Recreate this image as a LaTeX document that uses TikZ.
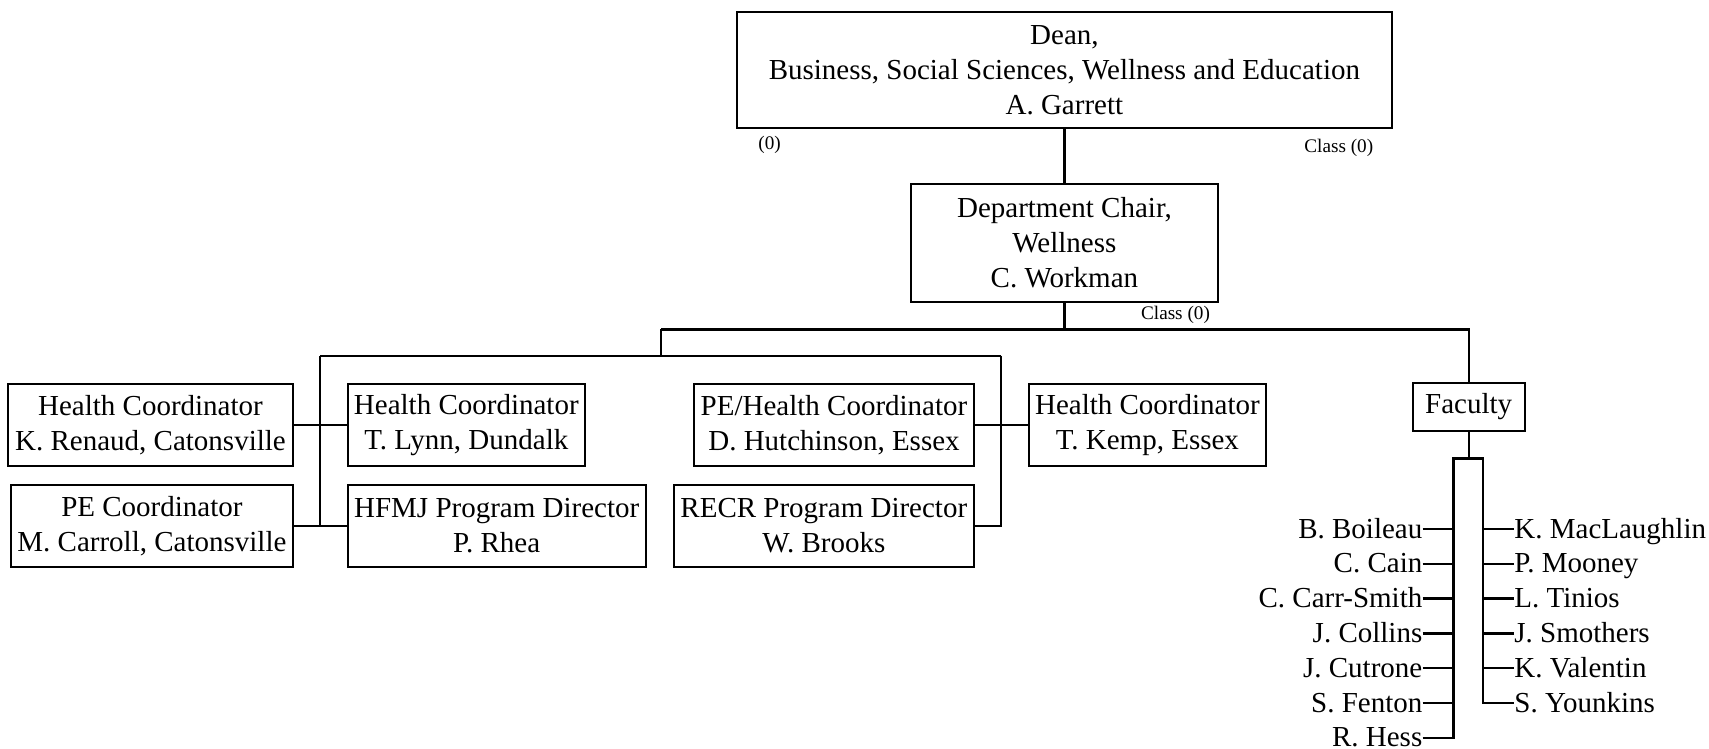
\documentclass[tikz,border=0pt]{standalone}
\usepackage{fontspec}
\setmainfont{Liberation Serif}
\begin{document}
\begin{tikzpicture}[x=0.5pt,y=-0.5pt,
  box/.style={draw, line width=1pt, inner sep=0pt, align=center, font=\fontsize{14.5}{17.5}\selectfont},
  conn/.style={line width=1.2pt},
  small/.style={inner sep=0pt, font=\fontsize{9.6}{11}\selectfont},
  lname/.style={inner sep=0pt, anchor=east, text height=9pt, text depth=0pt, font=\fontsize{14.5}{17.5}\selectfont},
  rname/.style={inner sep=0pt, anchor=west, text height=9pt, text depth=0pt, font=\fontsize{14.5}{17.5}\selectfont}]
\useasboundingbox (0,0) rectangle (1709,749);
% boxes
\node[box, minimum width=655.3*0.5pt, minimum height=116*0.5pt] (dean) at (1064.4,70.3)
  {Dean,\\Business, Social Sciences, Wellness and Education\\A. Garrett};
\node[box, minimum width=307.6*0.5pt, minimum height=117.7*0.5pt] (chair) at (1064.4,242.8)
  {Department Chair,\\Wellness\\C. Workman};
\node[small, anchor=base west] (l0) at (758,149.5) {(0)};
\node[small, anchor=base west] (lc1) at (1304,152.5) {Class (0)};
\node[small, anchor=base west] (lc2) at (1140.7,319) {Class (0)};

\node[box, minimum width=284.4*0.5pt, minimum height=81.7*0.5pt] (kr) at (150.5,425)
  {Health Coordinator\\K. Renaud, Catonsville};
\node[box, minimum width=281.7*0.5pt, minimum height=82.4*0.5pt] (mc) at (151.9,526)
  {PE Coordinator\\M. Carroll, Catonsville};
\node[box, minimum width=237.3*0.5pt, minimum height=81.7*0.5pt] (tl) at (466.3,425)
  {Health Coordinator\\T. Lynn, Dundalk};
\node[box, minimum width=298*0.5pt, minimum height=82.4*0.5pt] (hf) at (496.7,526)
  {HFMJ Program Director\\P. Rhea};
\node[box, minimum width=279.4*0.5pt, minimum height=81.7*0.5pt] (ph) at (834,425)
  {PE/Health Coordinator\\D. Hutchinson, Essex};
\node[box, minimum width=299.7*0.5pt, minimum height=82.4*0.5pt] (rc) at (823.8,526)
  {RECR Program Director\\W. Brooks};
\node[box, minimum width=237.2*0.5pt, minimum height=81.7*0.5pt] (tk) at (1147.4,425)
  {Health Coordinator\\T. Kemp, Essex};
\node[box, minimum width=112*0.5pt, minimum height=47.4*0.5pt] (fac) at (1468.7,407)
  {Faculty};

% faculty names
\node[lname] (l1) at (1422.7,529) {B. Boileau};
\node[lname] (l2) at (1422.7,563.8) {C. Cain};
\node[lname] (l3) at (1422.7,598.6) {C. Carr-Smith};
\node[lname] (l4) at (1422.7,633.4) {J. Collins};
\node[lname] (l5) at (1422.7,668.2) {J. Cutrone};
\node[lname] (l6) at (1422.7,703) {S. Fenton};
\node[lname] (l7) at (1422.7,737.8) {R. Hess};
\node[rname] (r1) at (1514,529) {K. MacLaughlin};
\node[rname] (r2) at (1514,563.8) {P. Mooney};
\node[rname] (r3) at (1514,598.6) {L. Tinios};
\node[rname] (r4) at (1514,633.4) {J. Smothers};
\node[rname] (r5) at (1514,668.2) {K. Valentin};
\node[rname] (r6) at (1514,703) {S. Younkins};

% junction coordinates
\coordinate (j1) at (1064.4,329.3);
\coordinate (b1) at (661,329.3);
\coordinate (b2) at (661,355.7);
\coordinate (lv) at (320,355.7);
\coordinate (lvb) at (320,526);
\coordinate (rv) at (1001,355.7);
\coordinate (fb) at (1468.7,458.3);
\coordinate (fbl) at (1453.3,458.3);
\coordinate (fbr) at (1482.7,458.3);

% connectors
\draw[conn] (dean.south) -- (chair.north);
\draw[conn] (chair.south) -- (j1);
\draw[conn] (b1) -| (fac.north);
\draw[conn] (b1) -- (b2);
\draw[conn] (lv) -- (rv);
\draw[conn] (lv) -- (lvb);
\draw[conn] (kr.east) -- (tl.west);
\draw[conn] (mc.east) -- (hf.west);
\draw[conn] (rv) |- (rc.east);
\draw[conn] (ph.east) -- (tk.west);
\draw[conn] (fac.south) -- (fb);
\draw[conn] (l7.east) -| (fbl) -- (fbr) |- (r6.west);
\foreach \n in {l1,l2,l3,l4,l5,l6} \draw[conn] (\n.east) -- (\n.east -| fbl);
\foreach \n in {r1,r2,r3,r4,r5} \draw[conn] (\n.west) -- (\n.west -| fbr);
\end{tikzpicture}
\end{document}
